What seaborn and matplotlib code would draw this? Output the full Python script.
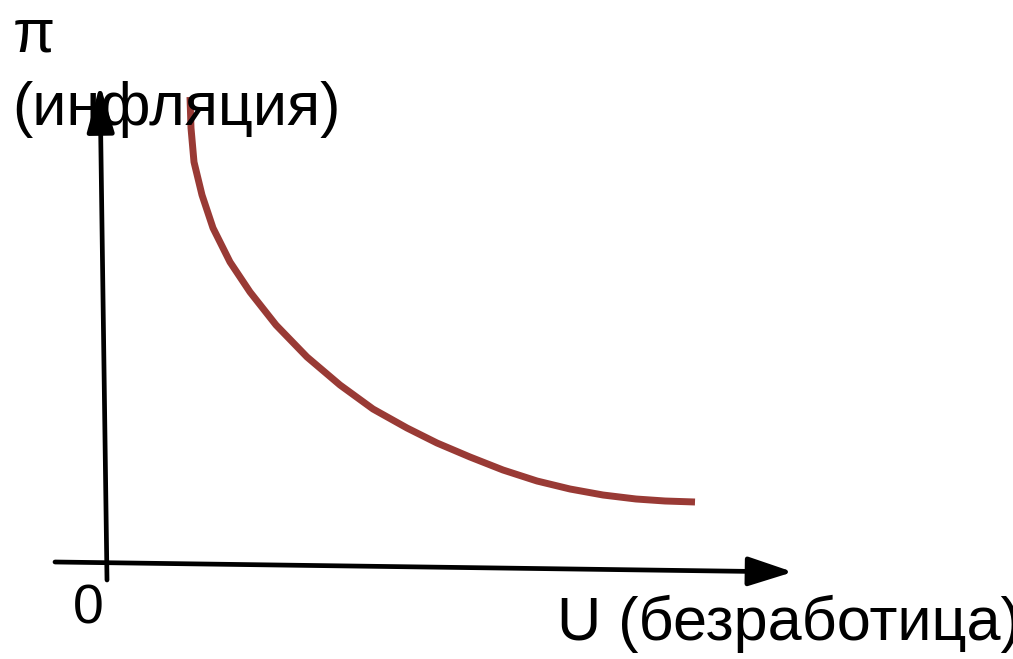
import matplotlib
matplotlib.use("Agg")
import matplotlib.pyplot as plt
import seaborn as sns
import pandas as pd

# Phillips curve (arbitrary units, origin at the axes corner)
unemployment = [0.83, 0.84, 0.87, 0.95, 1.06, 1.23, 1.43, 1.69, 2.00, 2.33, 2.66,
                3.00, 3.30, 3.63, 3.96, 4.30, 4.63, 4.96, 5.29, 5.58, 5.88]
inflation = [4.68, 4.37, 4.03, 3.70, 3.37, 3.03, 2.73, 2.40, 2.08, 1.80, 1.56,
             1.37, 1.22, 1.08, 0.95, 0.84, 0.76, 0.70, 0.66, 0.64, 0.63]

pi_symbol = "π"
y_label = "(инфляция)"
x_label = "U (безработица)"
origin_label = "0"

sns.set_theme(style="white")
plt.rcParams["font.family"] = ["Liberation Sans", "DejaVu Sans"]

fig = plt.figure(figsize=(10.13, 6.59), dpi=100)
ax = fig.add_axes([0, 0, 1, 1])
ax.set_xlim(-1.07, 9.06)
ax.set_ylim(-0.94, 5.65)
ax.axis("off")

df = pd.DataFrame({"U": unemployment, "pi": inflation})
sns.lineplot(data=df, x="U", y="pi", ax=ax, color="#993a35", linewidth=5,
             sort=False, solid_capstyle="butt", solid_joinstyle="round")

# hand-drawn looking axes, slightly tilted
x_arrow = dict(arrowstyle="-|>,head_length=2.3,head_width=0.75", color="black",
               lw=3.4, shrinkA=0, shrinkB=0)
y_arrow = dict(arrowstyle="-|>,head_length=2.4,head_width=0.7", color="black",
               lw=3.4, shrinkA=0, shrinkB=0)
ax.annotate("", xy=(6.86, -0.07), xytext=(-0.52, 0.03), arrowprops=x_arrow)
ax.annotate("", xy=(-0.07, 4.80), xytext=(0.0, -0.15), arrowprops=y_arrow)

ax.text(-0.94, 5.14, pi_symbol, fontsize=44, ha="left", va="baseline", color="black")
ax.text(-0.95, 4.40, y_label, fontsize=44, ha="left", va="baseline", color="black")
ax.text(-0.19, -0.58, origin_label, fontsize=40, ha="center", va="baseline", color="black")
ax.text(4.50, -0.75, x_label, fontsize=44, ha="left", va="baseline", color="black")

fig.savefig("out.png", dpi=100)
